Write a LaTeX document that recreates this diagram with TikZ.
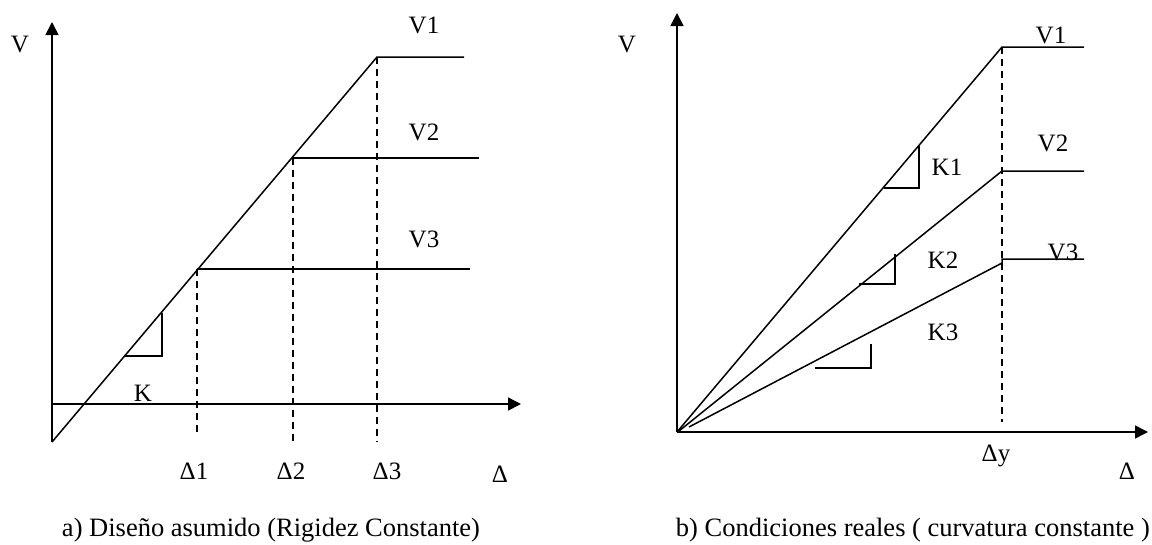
\documentclass[tikz,border=0pt]{standalone}
\usepackage{fontspec}
\setmainfont{Liberation Serif}
\usetikzlibrary{arrows.meta}
\begin{document}
\begin{tikzpicture}[x=1pt,y=-1pt,
  line/.style={line width=1.5pt},
  axis/.style={line width=1.5pt,-{Triangle[length=13pt,width=13pt]}},
  dashln/.style={line width=1.3pt,dash pattern=on 7pt off 5pt},
  lbl/.style={font=\fontsize{25}{27}\selectfont,inner sep=0pt},
  captxt/.style={font=\fontsize{26.5}{28}\selectfont,inner sep=0pt}]
\useasboundingbox (0,0) rectangle (1152,544);
% ---------- left panel ----------
\coordinate (ya0) at (52,442);
\coordinate (yaT) at (52,22);
\coordinate (xa0) at (52,404);
\coordinate (xaT) at (521,404);
\coordinate (p1) at (377,57);
\coordinate (p2) at (293,158);
\coordinate (p3) at (197,269);
\coordinate (e1) at (464,57);
\coordinate (e2) at (479,158);
\coordinate (e3) at (470,269);
\coordinate (d1) at (377,442);
\coordinate (d2) at (293,442);
\coordinate (d3) at (197,433);
\coordinate (ta) at (124,356);
\coordinate (tb) at (162,356);
\coordinate (tc) at (162,313);
\draw[axis] (ya0) -- (yaT);
\draw[axis] (xa0) -- (xaT);
\draw[line] (ya0) -- (p1) -- (e1);
\draw[line] (p2) -- (e2);
\draw[line] (p3) -- (e3);
\draw[dashln] (p1) -- (d1);
\draw[dashln] (p2) -- (d2);
\draw[dashln] (p3) -- (d3);
\draw[line] (ta) -- (tb) -- (tc);
\node[lbl] (lV) at (20,45) {V};
\node[lbl] (lV1) at (424,25) {V1};
\node[lbl] (lV2) at (424,132) {V2};
\node[lbl] (lV3) at (424,239) {V3};
\node[lbl] (lK) at (143,393) {K};
\node[lbl] (lD1) at (194,471) {Δ1};
\node[lbl] (lD2) at (291,471) {Δ2};
\node[lbl] (lD3) at (387,471) {Δ3};
\node[lbl] (lD) at (500,474) {Δ};
\node[captxt] (capa) at (271,530) {a) Diseño asumido (Rigidez Constante)};
% ---------- right panel ----------
\coordinate (o) at (677,432);
\coordinate (o2) at (679,431);
\coordinate (o3) at (689,427);
\coordinate (ybT) at (677,13);
\coordinate (xbT) at (1148,432);
\coordinate (q1) at (1002,47);
\coordinate (q2) at (1002,171);
\coordinate (q3) at (1002,263);
\coordinate (q3b) at (1002,259);
\coordinate (f1) at (1084,47);
\coordinate (f2) at (1084,171);
\coordinate (f3) at (1084,259);
\coordinate (qd) at (1002,422);
\draw[axis] (o) -- (ybT);
\draw[axis] (o) -- (xbT);
\draw[line] (o) -- (q1) -- (f1);
\draw[line] (o2) -- (q2) -- (f2);
\draw[line] (o3) -- (q3) -- (q3b) -- (f3);
\draw[dashln] (q1) -- (qd);
\coordinate (k1a) at (884,188);
\coordinate (k1b) at (919,188);
\coordinate (k1c) at (919,146);
\coordinate (k2a) at (859,284);
\coordinate (k2b) at (895,284);
\coordinate (k2c) at (895,254);
\coordinate (k3a) at (815,368);
\coordinate (k3b) at (871,368);
\coordinate (k3c) at (871,344);
\draw[line] (k1a) -- (k1b) -- (k1c);
\draw[line] (k2a) -- (k2b) -- (k2c);
\draw[line] (k3a) -- (k3b) -- (k3c);
\node[lbl] (rV) at (627,45) {V};
\node[lbl] (rV1) at (1051,35) {V1};
\node[lbl] (rV2) at (1053,143) {V2};
\node[lbl] (rV3) at (1063,252) {V3};
\node[lbl] (rK1) at (947,167) {K1};
\node[lbl] (rK2) at (943,260) {K2};
\node[lbl] (rK3) at (943,332) {K3};
\node[lbl] (rDy) at (996,456) {Δy};
\node[lbl] (rD) at (1127,471) {Δ};
\node[captxt,anchor=east] (capb) at (1150,530) {b) Condiciones reales ( curvatura constante )};
\end{tikzpicture}
\end{document}
